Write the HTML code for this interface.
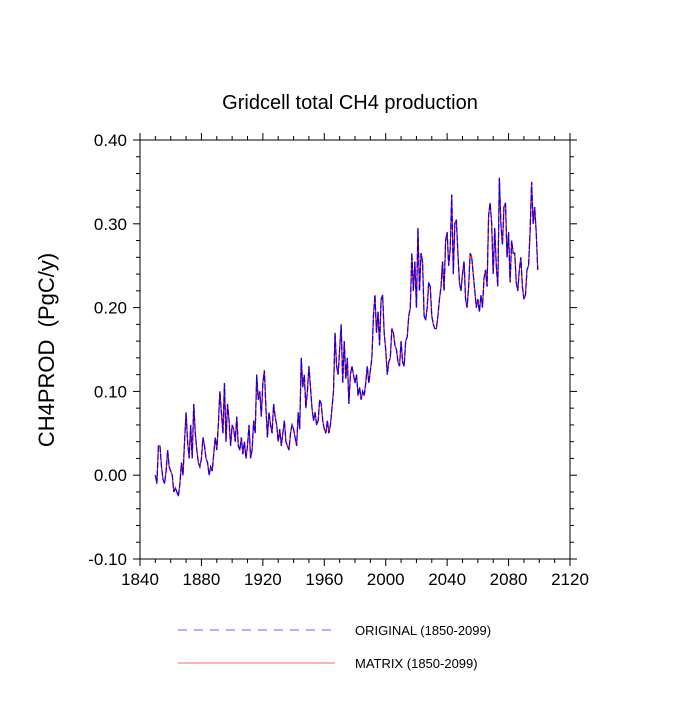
<!DOCTYPE html>
<html><head><meta charset="utf-8"><style>
body{margin:0;background:#fff}
text{font-family:"Liberation Sans",sans-serif;fill:#000}
</style></head><body>
<svg id="c" width="700" height="700" xmlns="http://www.w3.org/2000/svg">
<text x="350" y="109" font-size="20" text-anchor="middle">Gridcell total CH4 production</text>
<text transform="translate(54,350) rotate(-90)" font-size="22" text-anchor="middle" style="white-space:pre">CH4PROD  (PgC/y)</text>
<g id="axes"></g>
<g id="series"></g>
<rect x="140" y="140" width="430" height="419" fill="none" stroke="#000" stroke-width="1"/>
<g>
<line x1="178" y1="630" x2="335" y2="630" stroke="#66f" stroke-dasharray="9,7" stroke-width="1"/>
<text x="355" y="635" font-size="13">ORIGINAL (1850-2099)</text>
<line x1="178" y1="663" x2="335" y2="663" stroke="#f66" stroke-width="1"/>
<text x="355" y="668" font-size="13">MATRIX (1850-2099)</text>
</g>
</svg>
<script>
const startYear = 1850;
const original = [
0.00,-0.01,0.035,0.035,0.01,-0.005,-0.01,0.005,0.03,0.01,
0.005,0.0,-0.02,-0.015,-0.02,-0.025,-0.01,0.015,0.0,0.04,
0.075,0.04,0.02,0.06,0.02,0.085,0.05,0.03,0.015,0.01,
0.02,0.045,0.035,0.02,0.015,0.0,0.01,0.005,0.025,0.045,
0.03,0.06,0.1,0.075,0.05,0.11,0.04,0.085,0.065,0.035,
0.06,0.055,0.04,0.07,0.035,0.03,0.045,0.025,0.04,0.02,
0.035,0.06,0.02,0.03,0.065,0.05,0.12,0.09,0.1,0.07,
0.11,0.125,0.08,0.045,0.075,0.06,0.05,0.085,0.07,0.06,
0.04,0.055,0.035,0.05,0.065,0.04,0.035,0.03,0.05,0.06,
0.055,0.045,0.035,0.075,0.055,0.14,0.105,0.12,0.08,0.1,
0.13,0.105,0.08,0.065,0.075,0.06,0.065,0.09,0.085,0.065,
0.055,0.05,0.065,0.05,0.06,0.08,0.1,0.17,0.13,0.12,
0.15,0.18,0.11,0.16,0.115,0.14,0.085,0.12,0.13,0.12,
0.11,0.12,0.095,0.105,0.09,0.1,0.095,0.11,0.13,0.11,
0.125,0.14,0.19,0.215,0.17,0.195,0.155,0.21,0.215,0.17,
0.15,0.12,0.135,0.14,0.175,0.17,0.155,0.15,0.135,0.13,
0.16,0.135,0.13,0.16,0.165,0.19,0.2,0.265,0.22,0.255,
0.2,0.295,0.22,0.265,0.255,0.19,0.185,0.2,0.23,0.225,
0.19,0.18,0.175,0.175,0.19,0.21,0.225,0.255,0.22,0.28,
0.29,0.25,0.27,0.335,0.24,0.3,0.305,0.265,0.23,0.22,
0.24,0.255,0.21,0.2,0.225,0.265,0.26,0.24,0.22,0.2,
0.21,0.195,0.215,0.2,0.235,0.245,0.225,0.31,0.325,0.3,
0.24,0.295,0.25,0.225,0.355,0.3,0.275,0.32,0.325,0.26,
0.29,0.23,0.28,0.265,0.265,0.23,0.22,0.245,0.26,0.225,
0.21,0.215,0.245,0.25,0.29,0.35,0.3,0.32,0.29,0.245];
const matrix = original.slice();
const xTicks = [1840,1880,1920,1960,2000,2040,2080,2120];
const yTicks = [-0.10,0.00,0.10,0.20,0.30,0.40];
const xMin=1840,xMax=2120,yMin=-0.10,yMax=0.40;
const L=140,R=570,T=140,B=559;
const sx=v=>L+(v-xMin)/(xMax-xMin)*(R-L);
const sy=v=>B-(v-yMin)/(yMax-yMin)*(B-T);
const NS="http://www.w3.org/2000/svg";
const ax=document.getElementById('axes');
function ln(x1,y1,x2,y2,name){const l=document.createElementNS(NS,'line');
l.setAttribute('x1',x1);l.setAttribute('y1',y1);l.setAttribute('x2',x2);l.setAttribute('y2',y2);
l.setAttribute('stroke','#000');l.setAttribute('stroke-width','1');


ax.appendChild(l);}
function tx(x,y,s,anchor,name){const t=document.createElementNS(NS,'text');
t.setAttribute('x',x);t.setAttribute('y',y);t.setAttribute('font-size','17');t.setAttribute('text-anchor',anchor);t.textContent=s;


ax.appendChild(t);}
for(let yr=xMin;yr<=xMax;yr+=10){const x=sx(yr);const maj=(yr-xMin)%40===0;const len=maj?7:4;
ln(x,B,x,B+len,'x-tick');ln(x,T,x,T-len,'x-tick-top');}
xTicks.forEach(v=>tx(sx(v),B+26,String(v),'middle','x-tick-label'));
for(let i=0;i<=25;i++){const v=yMin+i*0.02;const y=sy(v);const maj=i%5===0;const len=maj?7:4;
ln(L,y,L-len,y,'y-tick');ln(R,y,R+len,y,'y-tick-right');}
yTicks.forEach(v=>tx(L-13,sy(v)+6,v.toFixed(2),'end','y-tick-label'));
const sg=document.getElementById('series');
function path(arr,color,dash,name){const p=document.createElementNS(NS,'path');
p.setAttribute('d',arr.map((v,i)=>(i?'L':'M')+sx(startYear+i).toFixed(2)+','+sy(v).toFixed(2)).join(''));
p.setAttribute('fill','none');p.setAttribute('stroke',color);p.setAttribute('stroke-width','1.2');
if(dash)p.setAttribute('stroke-dasharray',dash);


sg.appendChild(p);}
path(matrix,'#f00',null,'matrix-line');
path(original,'#00f','6,2','original-line');
</script>
</body></html>
